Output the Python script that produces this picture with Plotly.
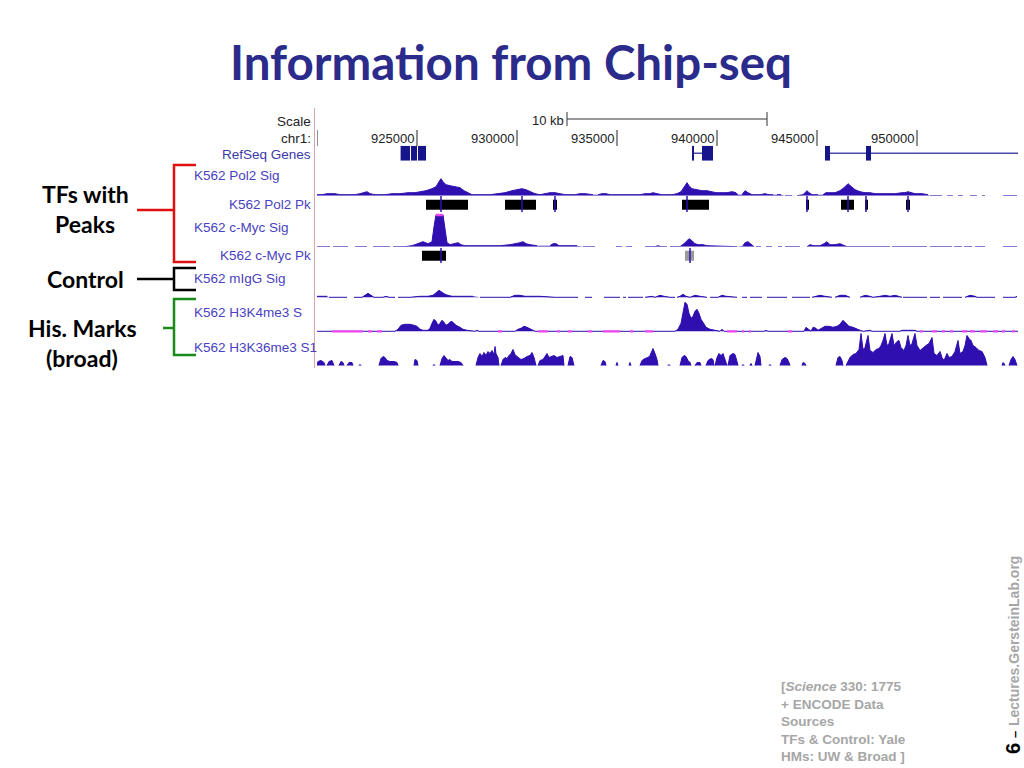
import plotly.graph_objects as go

W, H = 1024, 768
SIG = "#2f0fb0"       # signal fill colour
LABEL = "#4a3fc0"     # track label colour
CLIP = "#ee44ee"      # magenta markers (clipped / low values)

# ---- genome window, kb on chr1 ----
view = [920.0, 955.05]
ruler_ticks = [920, 925, 930, 935, 940, 945, 950]
scale_bar = [932.5, 942.5]
scale_label = "10 kb"

# ---- RefSeq genes ----
gene_exons = [(924.18, 924.65), (924.70, 925.00), (925.05, 925.45),
              (938.75, 938.85), (939.25, 939.80),
              (945.40, 945.65), (947.45, 947.70)]
gene_introns = [(938.85, 939.25), (945.65, 955.05)]

# ---- peak calls ----
pol2_peaks = [(925.45, 927.55), (929.40, 930.95), (931.80, 932.00), (938.25, 939.60),
              (944.45, 944.60), (946.20, 946.85), (947.40, 947.55), (949.45, 949.65)]
pol2_summits = [926.20, 930.25, 931.90, 938.50, 944.50, 946.55, 947.45, 949.55]
cmyc_peaks = [(925.25, 926.45), (938.40, 938.85)]
cmyc_scores = [1000, 350]
cmyc_summits = [926.20, 938.65]

# ---- signal tracks: (kb, value), None = no data ----
pol2_sig = [
    (920.00, 1), (920.25, 1), (920.50, 2), (920.90, 2), (921.15, 1), (921.90, 1), (922.15, 2),
    (922.35, 3), (922.50, 4), (922.65, 2), (922.90, 1), (923.40, 1), (923.75, 2), (924.15, 2),
    (924.55, 3), (924.90, 3), (925.15, 4), (925.45, 5), (925.75, 7), (925.95, 9), (926.10, 14),
    (926.20, 17), (926.30, 14), (926.45, 11), (926.65, 10), (926.90, 9), (927.15, 8), (927.35, 5),
    (927.55, 3), (927.75, 1), (928.65, 1), (929.05, 2), (929.40, 3), (929.75, 5), (930.05, 6),
    (930.25, 7), (930.45, 6), (930.65, 4), (930.90, 2), (931.15, 1), (931.40, 2), (931.65, 3),
    (931.90, 3), (932.15, 2), (932.40, 1), (932.90, 1), (933.15, 2), (933.40, 2), (933.65, 1),
    (933.80, 1), None,
    (934.05, 1), (934.25, 2), (934.45, 2), (934.65, 1), (936.15, 1), (936.40, 2), (936.65, 2),
    (936.80, 3), (937.00, 2), (937.25, 1), (937.75, 1), (938.00, 2), (938.20, 4), (938.35, 8),
    (938.50, 13), (938.60, 10), (938.75, 7), (939.00, 6), (939.25, 5), (939.50, 5), (939.70, 4),
    (939.95, 3), (940.25, 3), (940.50, 3), (940.75, 4), (940.95, 3), (941.05, 1), None,
    (941.25, 1), (941.40, 5), (941.55, 3), (941.75, 1), (942.15, 1), (942.40, 2), (942.60, 1),
    (942.80, 1), None, (943.00, 1), (943.20, 1), None, (943.40, 0), (943.75, 0), None,
    (944.00, 0), (944.30, 1), (944.40, 3), (944.50, 5), (944.60, 3), (944.75, 1), (945.05, 1), None,
    (945.30, 1), (945.45, 3), (945.65, 3), (945.90, 3), (946.15, 5), (946.35, 8), (946.55, 12),
    (946.70, 9), (946.90, 6), (947.15, 4), (947.40, 3), (947.65, 3), (947.90, 2), (948.40, 2),
    (948.90, 2), (949.25, 3), (949.40, 3), (949.55, 4), (949.70, 3), (949.90, 2), (950.25, 2),
    (950.55, 1), None,
    (950.65, 0), (951.25, 0), None, (951.50, 0), (951.80, 0), None, (952.05, 0), (952.30, 0), None,
    (952.65, 0), (953.00, 0), None, (953.25, 0), (953.40, 0), None, (954.30, 0), (955.00, 0),
]

cmyc_max = 32
cmyc_sig = [
    (920.00, 0), (920.65, 0), None, (920.80, 0), (921.55, 0), None, (921.90, 0), (922.50, 0), None,
    (922.80, 0), (923.65, 0), None,
    (923.80, 0), (924.40, 0), (924.75, 1), (925.05, 3), (925.30, 5), (925.55, 3), (925.75, 5),
    (925.85, 20), (925.95, 32), (926.30, 32), (926.40, 18), (926.50, 4), (926.65, 2), (926.90, 3),
    (927.05, 4), (927.20, 2), (927.40, 1), (928.65, 1), (929.15, 1), (929.65, 2), (929.95, 3),
    (930.15, 4), (930.30, 5), (930.45, 3), (930.65, 2), (931.00, 1), None,
    (931.65, 1), (931.80, 3), (931.95, 3), (932.10, 1), (933.00, 1), None,
    (933.30, 0), (933.90, 0), None, (934.95, 0), (935.25, 0), None, (935.45, 0), (935.75, 0), None,
    (936.40, 0), (936.90, 0), (937.05, 1), (937.20, 0), (937.50, 0), None,
    (937.65, 0), (938.15, 0), (938.35, 3), (938.50, 6), (938.60, 8), (938.75, 6), (938.90, 3),
    (939.05, 2), (939.30, 2), (939.50, 1), (941.00, 0), None,
    (941.30, 1), (941.40, 4), (941.55, 5), (941.70, 2), (941.85, 0), None,
    (941.95, 0), (942.20, 0), None, (942.45, 0), (942.75, 0), None, (943.05, 0), (943.25, 0), None,
    (943.40, 0), (944.15, 0), None,
    (944.50, 0), (944.65, 2), (944.85, 1), (945.15, 1), (945.35, 3), (945.50, 5), (945.65, 2),
    (945.90, 2), (946.15, 3), (946.30, 2), (946.50, 0), (948.65, 0), None,
    (948.75, 0), (950.50, 0), None, (950.65, 0), (951.75, 0), None, (951.85, 0), (952.25, 0), None,
    (952.35, 0), (952.75, 0), None, (952.90, 0), (953.40, 0), None, (954.30, 0), (955.00, 0),
]

migg_sig = [
    (920.00, 1), (920.50, 1), None, (920.60, 0), (921.50, 0), None,
    (921.85, 0), (922.25, 0), (922.40, 2), (922.55, 4), (922.70, 2), (922.85, 0), (923.30, 0),
    (923.45, 1), (923.60, 0), (923.90, 0), None,
    (924.05, 0), (924.65, 0), (925.15, 1), (925.55, 1), (925.80, 2), (925.95, 5), (926.10, 7),
    (926.25, 5), (926.40, 3), (926.55, 2), (926.75, 1), (927.15, 1), (927.80, 1), None,
    (928.15, 0), (929.65, 0), (929.90, 2), (930.15, 2), (930.40, 1), (930.65, 1), (931.15, 1),
    (931.90, 0), (933.05, 0), None,
    (933.40, 0), (933.75, 0), None, (934.35, 0), (935.15, 0), None, (935.30, 0), (935.45, 0), None,
    (935.55, 0), (936.30, 0), None,
    (936.40, 0), (936.75, 1), (936.90, 0), (937.15, 2), (937.35, 1), (937.65, 0), (937.90, 0), None,
    (938.00, 0), (938.15, 1), (938.30, 3), (938.45, 1), (938.65, 0), (938.90, 2), (939.15, 1),
    (939.50, 0), None,
    (939.65, 0), (940.05, 0), (940.25, 2), (940.45, 1), (941.00, 0), None,
    (941.25, 0), (941.50, 0), None, (941.65, 0), (942.25, 0), None, (942.50, 0), (943.50, 0), None,
    (943.75, 0), (944.65, 0), None,
    (944.75, 0), (944.90, 1), (945.15, 2), (945.40, 1), (945.75, 0), None,
    (945.90, 0), (946.15, 2), (946.40, 2), (946.65, 0), None,
    (947.15, 0), (947.40, 2), (947.65, 1), (947.80, 0), (948.15, 1), (948.40, 2), (948.65, 1),
    (948.90, 2), (949.25, 0), None,
    (949.30, 0), (950.50, 0), None, (950.65, 0), (951.15, 0), None,
    (951.30, 0), (952.25, 0), None, (952.40, 0), (952.65, 2), (952.90, 1), (953.00, 0), (953.90, 0),
    None, (954.30, 0), (954.90, 0), (955.00, 1),
]

h3k4me3_sig = [
    (920.00, 0), (923.90, 0), (924.05, 2), (924.20, 6), (924.40, 7), (924.65, 7), (924.85, 6),
    (925.00, 5), (925.15, 2), (925.30, 1), (925.55, 1), (925.65, 3), (925.75, 8), (925.85, 12),
    (925.95, 10), (926.05, 6), (926.15, 8), (926.25, 11), (926.35, 9), (926.45, 6), (926.55, 7),
    (926.70, 10), (926.80, 9), (926.95, 6), (927.15, 4), (927.30, 2), (927.50, 1), (927.90, 0),
    (928.00, 1), (928.10, 0), (929.90, 0), (930.05, 2), (930.20, 3), (930.35, 5), (930.50, 4),
    (930.70, 2), (930.90, 0), (937.90, 0), (938.05, 2), (938.20, 8), (938.30, 20), (938.40, 29),
    (938.50, 27), (938.60, 18), (938.70, 13), (938.80, 15), (938.90, 20), (939.00, 22),
    (939.10, 18), (939.20, 12), (939.30, 9), (939.45, 4), (939.65, 2), (939.85, 1), (940.05, 0),
    (940.15, 0), (940.25, 2), (940.35, 0), (942.35, 0), (942.45, 1), (942.55, 0), (944.35, 0),
    (944.45, 4), (944.55, 2), (944.70, 0), (944.80, 4), (944.95, 3), (945.05, 1), (945.25, 3),
    (945.40, 5), (945.60, 5), (945.80, 4), (946.00, 5), (946.15, 7), (946.30, 11), (946.45, 8),
    (946.60, 5), (946.80, 4), (947.00, 2), (947.15, 1), (947.30, 0), (947.65, 1), (947.75, 0),
    (949.15, 0), (949.25, 1), (949.90, 1), (950.00, 0), (955.05, 0),
]
h3k4me3_low = [(920.75, 922.30), (922.55, 922.75), (923.00, 923.25), (929.05, 929.25),
               (931.05, 931.55), (932.00, 932.15), (932.55, 932.75), (933.55, 933.75),
               (934.30, 935.15), (935.65, 935.80), (936.40, 936.80), (940.50, 941.00),
               (941.25, 941.35), (941.60, 941.70), (943.55, 943.75), (950.15, 950.30),
               (950.75, 951.00), (951.25, 951.40), (951.65, 951.80), (952.25, 952.50),
               (952.65, 952.90), (953.15, 953.50), (953.80, 954.05), (954.25, 954.40),
               (954.75, 954.90)]

h3k36me3_sig = [
    (920.00, 0), (920.05, 4), (920.20, 5), (920.35, 3), (920.40, 0), None,
    (920.50, 0), (920.60, 4), (920.75, 5), (920.85, 0), None,
    (921.10, 0), (921.20, 4), (921.30, 3), (921.35, 0), None,
    (921.50, 0), (921.60, 3), (921.75, 3), (921.80, 0), None,
    (922.10, 0), (922.15, 1), (922.20, 0), None,
    (923.10, 0), (923.20, 7), (923.30, 9), (923.40, 8), (923.50, 5), (923.65, 4), (923.85, 4),
    (924.00, 3), (924.05, 0), None,
    (924.85, 0), (924.90, 6), (925.00, 5), (925.05, 0), None,
    (925.80, 0), (925.85, 1), (925.90, 0), None,
    (926.15, 0), (926.25, 7), (926.35, 10), (926.45, 8), (926.55, 5), (926.65, 6), (926.75, 4),
    (926.90, 4), (927.05, 4), (927.20, 3), (927.30, 0), None,
    (927.95, 0), (928.05, 8), (928.15, 12), (928.25, 9), (928.35, 13), (928.45, 10), (928.55, 14),
    (928.65, 12), (928.75, 15), (928.85, 11), (928.90, 19), (928.95, 12), (929.05, 8), (929.10, 0),
    None,
    (929.20, 0), (929.30, 6), (929.40, 8), (929.50, 7), (929.60, 10), (929.70, 12), (929.80, 16),
    (929.90, 11), (930.00, 9), (930.10, 7), (930.20, 6), (930.35, 7), (930.50, 9), (930.65, 10),
    (930.75, 13), (930.85, 8), (930.95, 0), None,
    (931.05, 0), (931.15, 5), (931.30, 6), (931.40, 9), (931.50, 12), (931.60, 8), (931.70, 9),
    (931.85, 10), (932.00, 8), (932.15, 9), (932.30, 10), (932.35, 0), None,
    (932.55, 0), (932.65, 9), (932.75, 8), (932.85, 0), None,
    (934.20, 0), (934.30, 5), (934.40, 4), (934.45, 0), None,
    (934.95, 0), (935.00, 3), (935.05, 0), None,
    (935.60, 0), (935.65, 3), (935.70, 0), None,
    (936.15, 0), (936.25, 5), (936.40, 7), (936.55, 8), (936.65, 10), (936.80, 17), (936.90, 12),
    (937.00, 6), (937.05, 0), None,
    (937.55, 0), (937.60, 1), (937.65, 0), None,
    (938.15, 0), (938.25, 8), (938.35, 10), (938.45, 9), (938.55, 5), (938.65, 3), (938.70, 0), None,
    (938.90, 0), (939.00, 3), (939.15, 3), (939.20, 0), None,
    (939.45, 0), (939.55, 5), (939.70, 7), (939.80, 6), (939.85, 0), None,
    (939.90, 0), (940.00, 8), (940.10, 12), (940.20, 10), (940.30, 12), (940.40, 7), (940.50, 0), None,
    (940.55, 0), (940.65, 10), (940.80, 12), (940.90, 11), (941.00, 4), (941.05, 0), None,
    (941.25, 0), (941.30, 1), (941.35, 0), None,
    (941.65, 0), (941.70, 2), (941.75, 0), None,
    (941.90, 0), (942.00, 10), (942.05, 13), (942.15, 9), (942.20, 0), None,
    (942.60, 0), (942.65, 1), (942.70, 0), None,
    (943.15, 0), (943.25, 6), (943.40, 8), (943.50, 7), (943.60, 3), (943.65, 0), None,
    (944.25, 0), (944.30, 3), (944.40, 2), (944.45, 0), None,
    (945.95, 0), (946.05, 8), (946.15, 9), (946.25, 5), (946.30, 0), None,
    (946.45, 0), (946.55, 4), (946.65, 8), (946.80, 11), (946.95, 12), (947.10, 16), (947.20, 32),
    (947.30, 16), (947.40, 18), (947.55, 30), (947.65, 15), (947.80, 13), (947.95, 16), (948.10, 17),
    (948.20, 20), (948.30, 25), (948.40, 32), (948.50, 20), (948.60, 22), (948.75, 32), (948.85, 20),
    (949.00, 24), (949.10, 25), (949.20, 18), (949.35, 15), (949.45, 20), (949.55, 30), (949.65, 20),
    (949.75, 22), (949.90, 32), (950.00, 20), (950.15, 15), (950.30, 18), (950.45, 20), (950.60, 22),
    (950.75, 28), (950.85, 12), (951.00, 10), (951.15, 14), (951.25, 8), (951.35, 5), (951.50, 12),
    (951.60, 8), (951.75, 9), (951.90, 14), (952.05, 25), (952.15, 12), (952.30, 14), (952.40, 20),
    (952.50, 30), (952.60, 27), (952.70, 25), (952.80, 20), (952.95, 18), (953.10, 15), (953.25, 14),
    (953.40, 8), (953.50, 0), None,
    (954.25, 0), (954.30, 3), (954.35, 2), (954.40, 0), None,
    (954.60, 0), (954.70, 6), (954.80, 9), (954.90, 6), (955.00, 0),
]


def px_y(p):
    # pixel row -> paper coordinate
    return 1 - p / H


def px_x(p):
    return p / W


def unzip(points):
    xs, ys = [], []
    for pt in points:
        xs.append(None if pt is None else pt[0])
        ys.append(None if pt is None else pt[1])
    return xs, ys


fig = go.Figure()

# one y axis per track, 1 data unit = 1 pixel, value 0 sits on the baseline row
track_rows = {  # axis: (baseline px, low, high)
    "y": (160.8, 0, 15),       # genes
    "y2": (195.7, -1, 20),     # Pol2 sig
    "y3": (209.7, -3, 14),     # Pol2 pk
    "y4": (246.7, -1, 33),     # c-Myc sig
    "y5": (260.7, -3, 14),     # c-Myc pk
    "y6": (297.3, -1, 20),     # mIgG sig
    "y7": (331.3, -2.5, 31),   # H3K4me3
    "y8": (365.5, -1, 33),     # H3K36me3
}
axes = {}
for name, (base, lo, hi) in track_rows.items():
    key = "yaxis" if name == "y" else "yaxis" + name[1:]
    axes[key] = dict(domain=[px_y(base - lo), px_y(base - hi)], range=[lo, hi],
                     visible=False, fixedrange=True, anchor="x")


def add_signal(points, yaxis):
    xs, ys = unzip(points)
    fig.add_trace(go.Scatter(x=xs, y=ys, mode="lines", yaxis=yaxis, fill="tozeroy",
                             fillcolor=SIG, line=dict(color=SIG, width=1),
                             connectgaps=False, hoverinfo="skip", showlegend=False))


add_signal(pol2_sig, "y2")
add_signal(cmyc_sig, "y4")
add_signal(migg_sig, "y6")
add_signal(h3k4me3_sig, "y7")
add_signal(h3k36me3_sig, "y8")

# clipped top of the c-Myc peak
clip_x, clip_y = [], []
for a, b in zip(cmyc_sig[:-1], cmyc_sig[1:]):
    if a and b and a[1] >= cmyc_max and b[1] >= cmyc_max:
        clip_x += [a[0], b[0], None]
        clip_y += [cmyc_max, cmyc_max, None]
fig.add_trace(go.Scatter(x=clip_x, y=clip_y, mode="lines", yaxis="y4",
                         line=dict(color=CLIP, width=3), hoverinfo="skip", showlegend=False))

# low-value stretches of H3K4me3
low_x, low_y = [], []
for s, e in h3k4me3_low:
    low_x += [s, e, None]
    low_y += [-0.5, -0.5, None]
fig.add_trace(go.Scatter(x=low_x, y=low_y, mode="lines", yaxis="y7",
                         line=dict(color=CLIP, width=3), hoverinfo="skip", showlegend=False))

shapes = []

# genes
for s, e in gene_introns:
    shapes.append(dict(type="line", xref="x", yref="y", x0=s, x1=e, y0=7.5, y1=7.5,
                       line=dict(color="#4a4aa8", width=1.5)))
for s, e in gene_exons:
    shapes.append(dict(type="rect", xref="x", yref="y", x0=s, x1=e, y0=0, y1=15,
                       fillcolor="#16168a", line=dict(width=0)))

# peak calls
for s, e in pol2_peaks:
    shapes.append(dict(type="rect", xref="x", yref="y3", x0=s, x1=e, y0=0, y1=10,
                       fillcolor="black", line=dict(width=0)))
for (s, e), sc in zip(cmyc_peaks, cmyc_scores):
    col = "black" if sc >= 500 else "#9a9a9a"
    shapes.append(dict(type="rect", xref="x", yref="y5", x0=s, x1=e, y0=0, y1=10,
                       fillcolor=col, line=dict(width=0)))
for x in pol2_summits:
    shapes.append(dict(type="line", xref="x", yref="y3", x0=x, x1=x, y0=-2.3, y1=13.7,
                       line=dict(color=SIG, width=1.5)))
for x in cmyc_summits:
    shapes.append(dict(type="line", xref="x", yref="y5", x0=x, x1=x, y0=-2.3, y1=12.7,
                       line=dict(color=SIG, width=1.5)))

# ruler
annotations = []
for t in ruler_ticks:
    shapes.append(dict(type="line", xref="x", yref="paper", x0=t, x1=t,
                       y0=px_y(146), y1=px_y(130), line=dict(color="#222", width=1)))
    if t > view[0]:
        annotations.append(dict(x=t, y=px_y(138.5), xref="x", yref="paper", text=str(t * 1000),
                                xanchor="right", yanchor="middle", showarrow=False, xshift=-1,
                                font=dict(family="Liberation Sans", size=13, color="#222")))
shapes.append(dict(type="line", xref="x", yref="paper", x0=scale_bar[0], x1=scale_bar[1],
                   y0=px_y(119), y1=px_y(119), line=dict(color="#333", width=1)))
for x in scale_bar:
    shapes.append(dict(type="line", xref="x", yref="paper", x0=x, x1=x,
                       y0=px_y(126), y1=px_y(112), line=dict(color="#333", width=1)))
annotations.append(dict(x=scale_bar[0], y=px_y(120), xref="x", yref="paper", text=scale_label,
                        xanchor="right", yanchor="middle", showarrow=False, xshift=-1,
                        font=dict(family="Liberation Sans", size=13, color="#222")))

# separator between labels and data
shapes.append(dict(type="line", xref="paper", yref="paper", x0=px_x(314.5), x1=px_x(314.5),
                   y0=px_y(368), y1=px_y(108), line=dict(color="#d4a8a8", width=1)))

# track labels
right_labels = [("Scale", 121, "#222"), ("chr1:", 138.5, "#222"), ("RefSeq Genes", 155, "#3a3aa8"),
                ("K562 Pol2 Pk", 205, LABEL), ("K562 c-Myc Pk", 256, LABEL)]
left_labels = [("K562 Pol2 Sig", 176), ("K562 c-Myc Sig", 227), ("K562 mIgG Sig", 278),
               ("K562 H3K4me3 S", 312), ("K562 H3K36me3 S1", 347)]
for txt, y, col in right_labels:
    annotations.append(dict(x=px_x(313), y=px_y(y), xref="paper", yref="paper", text=txt,
                            xanchor="right", yanchor="middle", showarrow=False,
                            font=dict(family="Liberation Sans", size=13.5, color=col)))
for txt, y in left_labels:
    annotations.append(dict(x=px_x(192), y=px_y(y), xref="paper", yref="paper", text=txt,
                            xanchor="left", yanchor="middle", showarrow=False,
                            font=dict(family="Liberation Sans", size=13.5, color=LABEL)))

# brackets grouping the tracks
brackets = [("#e01010", 165, 262, 137, 210), ("black", 268, 290, 137, 279),
            ("#1a8a1a", 299, 355, 163, 328)]
for col, top, bot, stem_x, stem_y in brackets:
    path = (f"M {px_x(196)},{px_y(top)} L {px_x(174)},{px_y(top)} "
            f"L {px_x(174)},{px_y(bot)} L {px_x(196)},{px_y(bot)}")
    shapes.append(dict(type="path", xref="paper", yref="paper", path=path,
                       line=dict(color=col, width=2.5)))
    shapes.append(dict(type="line", xref="paper", yref="paper", x0=px_x(stem_x), x1=px_x(174),
                       y0=px_y(stem_y), y1=px_y(stem_y), line=dict(color=col, width=2.5)))

group_labels = [("TFs with", 85, 194), ("Peaks", 85, 224), ("Control", 85, 279),
                ("His. Marks", 82, 328), ("(broad)", 82, 358)]
for txt, x, y in group_labels:
    annotations.append(dict(x=px_x(x), y=px_y(y), xref="paper", yref="paper", text=f"<b>{txt}</b>",
                            xanchor="center", yanchor="middle", showarrow=False,
                            font=dict(family="Lato", size=23, color="black")))

# title
annotations.append(dict(x=px_x(511), y=px_y(62), xref="paper", yref="paper",
                        text="<b>Information from Chip-seq</b>", showarrow=False,
                        xanchor="center", yanchor="middle",
                        font=dict(family="Lato", size=47.5, color="#2b2b8c")))

# source note
annotations.append(dict(x=px_x(779), y=px_y(721.5), xref="paper", yref="paper", align="left",
                        text="<b>[<i>Science</i> 330: 1775<br>+ ENCODE Data<br>Sources<br>"
                             "TFs &amp; Control: Yale<br>HMs: UW &amp; Broad ]</b>",
                        xanchor="left", yanchor="middle", showarrow=False,
                        font=dict(family="Liberation Sans", size=13.5, color="#a6a6a6")))

# vertical footer
annotations.append(dict(x=px_x(1013), y=px_y(749), xref="paper", yref="paper", text="<b>6</b>",
                        textangle=-90, showarrow=False, xanchor="center", yanchor="middle",
                        font=dict(family="Liberation Sans", size=20, color="black")))
annotations.append(dict(x=px_x(1014), y=px_y(735), xref="paper", yref="paper", text="<b>–</b>",
                        textangle=-90, showarrow=False, xanchor="center", yanchor="middle",
                        font=dict(family="Liberation Sans", size=13, color="black")))
annotations.append(dict(x=px_x(1014), y=px_y(641), xref="paper", yref="paper",
                        text="<b>Lectures.GersteinLab.org</b>",
                        textangle=-90, showarrow=False, xanchor="center", yanchor="middle",
                        font=dict(family="Liberation Sans", size=14, color="#a6a6a6")))

fig.update_layout(
    width=W, height=H,
    margin=dict(l=0, r=0, t=0, b=0),
    paper_bgcolor="white", plot_bgcolor="white",
    showlegend=False,
    xaxis=dict(domain=[px_x(317), px_x(1018)], range=view, visible=False, fixedrange=True),
    shapes=shapes,
    annotations=annotations,
    **axes,
)

# the page body has a default margin; drop it so the figure fills the window exactly
fig.write_html("out.html", config={"displayModeBar": False},
               post_script="document.body.style.margin='0';document.body.style.overflow='hidden';")
